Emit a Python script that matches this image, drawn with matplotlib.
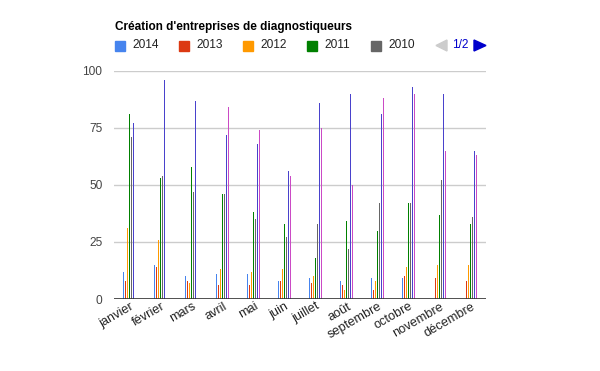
import matplotlib
matplotlib.use("Agg")
import matplotlib.pyplot as plt
from matplotlib.patches import Rectangle, Polygon
from matplotlib.transforms import ScaledTranslation
import numpy as np

# Monthly counts, one list per year
months = ["janvier", "février", "mars", "avril", "mai", "juin", "juillet",
          "août", "septembre", "octobre", "novembre", "décembre"]
years = ["2014", "2013", "2012", "2011", "2010", "2009", "2008"]
v2014 = [12, 15, 10, 11, 11, 8, 9, 8, 9, 9, 0, 0]
v2013 = [8, 14, 8, 6, 6, 8, 7, 6, 4, 10, 9, 8]
v2012 = [31, 26, 7, 13, 12, 13, 10, 4, 8, 14, 15, 15]
v2011 = [81, 53, 58, 46, 38, 33, 18, 34, 30, 42, 37, 33]
v2010 = [71, 54, 47, 46, 35, 27, 33, 22, 42, 42, 52, 36]
v2009 = [77, 96, 87, 72, 68, 56, 86, 90, 81, 93, 90, 65]
v2008 = [0, 0, 0, 84, 74, 54, 75, 50, 88, 90, 65, 63]
series = [v2014, v2013, v2012, v2011, v2010, v2009, v2008]
colors = ["#4684ee", "#dc3912", "#ff9900", "#008000", "#666666", "#4942cc", "#cb4ac5"]
yticks = [0, 25, 50, 75, 100]

W, H = 600, 371
plt.rcParams["font.family"] = ["Liberation Sans", "DejaVu Sans"]
fig = plt.figure(figsize=(W / 100, H / 100), dpi=100)

# chart area in pixels: x 113..486, y 71..299
left, right, top, bottom = 113.5, 485.5, 71, 299
ax = fig.add_axes([left / W, 1 - bottom / H, (right - left) / W, (bottom - top) / H])

px = (right - left) / len(months)  # pixels per category
x = np.arange(len(months))
for i, (vals, c) in enumerate(zip(series, colors)):
    off = (i - 3) * 2 / px
    # 1px wide bars: thin vertical strokes from the baseline
    ax.vlines(x + off, 0, vals, colors=c, linewidth=0.72, antialiased=False,
              capstyle="butt", zorder=3)

ax.set_xlim(-0.5, len(months) - 0.5)
ax.set_ylim(0, 100)
ax.set_yticks(yticks)
ax.set_yticklabels([str(t) for t in yticks], fontsize=8.6, color="#444444")
ax.grid(axis="y", color="#cccccc", linewidth=1, zorder=0)
ax.axhline(0, color="#333333", linewidth=1.2, zorder=4)
for s in ax.spines.values():
    s.set_visible(False)
ax.tick_params(length=0)
ax.tick_params(axis="y", pad=8)
ax.set_xticks(x)
ax.set_xticklabels(months, fontsize=9.2, color="#222222", rotation=30,
                   ha="right", va="top", rotation_mode="anchor")
ax.tick_params(axis="x", pad=1)
shift = ScaledTranslation(1 / 100, 0, fig.dpi_scale_trans)
for lab in ax.get_xticklabels():
    lab.set_transform(lab.get_transform() + shift)

# title and paged legend, placed like the Google chart header
fig.text(115 / W, 1 - 27 / H, "Création d'entreprises de diagnostiqueurs",
         fontsize=8.5, fontweight="bold", color="#000000", va="center", ha="left")
for k in range(5):
    x0 = 115 + 64 * k
    fig.patches.append(Rectangle((x0 / W, 1 - 51 / H), 10 / W, 10 / H,
                                 transform=fig.transFigure, color=colors[k]))
    fig.text((x0 + 17.5) / W, 1 - 45.5 / H, years[k], fontsize=8.6,
             color="#222222", va="center", ha="left")
fig.patches.append(Polygon([(447 / W, 1 - 40 / H), (447 / W, 1 - 51 / H), (436 / W, 1 - 45.5 / H)],
                           transform=fig.transFigure, color="#cccccc"))
fig.text(452 / W, 1 - 45.5 / H, "1/2", fontsize=8.6, color="#0000cc", va="center", ha="left")
fig.patches.append(Polygon([(474 / W, 1 - 40 / H), (474 / W, 1 - 51 / H), (486 / W, 1 - 45.5 / H)],
                           transform=fig.transFigure, color="#0000cc"))

fig.savefig("out.png", dpi=100)
